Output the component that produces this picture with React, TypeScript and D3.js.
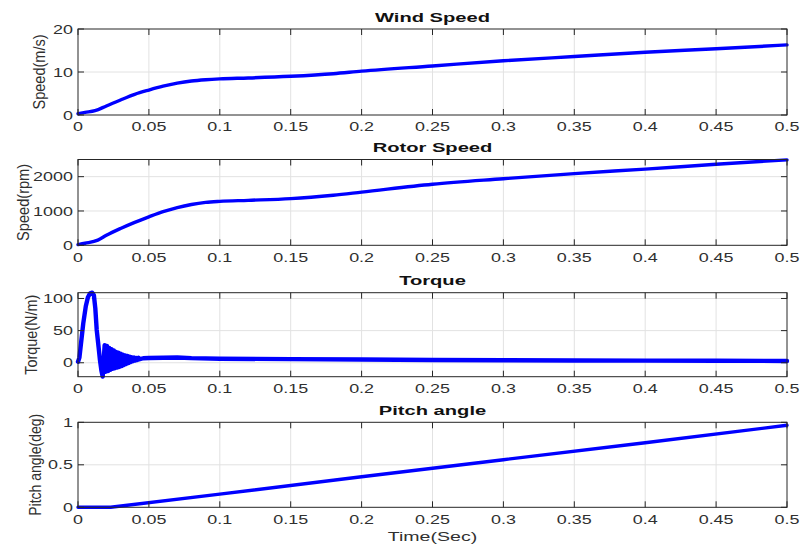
import React from "react";
import * as d3 from "d3";

// ---------- data ----------
const xTicks = [0, 0.05, 0.1, 0.15, 0.2, 0.25, 0.3, 0.35, 0.4, 0.45, 0.5];
const xTickLabels = ["0", "0.05", "0.1", "0.15", "0.2", "0.25", "0.3", "0.35", "0.4", "0.45", "0.5"];

const titles = ["Wind Speed", "Rotor Speed", "Torque", "Pitch angle"];
const yLabels = ["Speed(m/s)", "Speed(rpm)", "Torque(N/m)", "Pitch angle(deg)"];
const xLabel = "Time(Sec)";

const windT = [0, 0.005, 0.012, 0.02, 0.03, 0.04, 0.05, 0.06, 0.07, 0.08, 0.09, 0.1, 0.12, 0.15, 0.18, 0.2, 0.25, 0.3, 0.35, 0.4, 0.45, 0.5];
const windV = [0.3, 0.6, 1.0, 2.1, 3.5, 4.8, 5.8, 6.7, 7.4, 7.9, 8.2, 8.4, 8.6, 9.0, 9.6, 10.2, 11.4, 12.6, 13.6, 14.6, 15.4, 16.3];
const windYTicks = [0, 10, 20];

const rotorT = [0, 0.005, 0.014, 0.02, 0.03, 0.04, 0.05, 0.06, 0.07, 0.08, 0.09, 0.1, 0.12, 0.15, 0.18, 0.2, 0.25, 0.3, 0.35, 0.4, 0.45, 0.5];
const rotorV = [20, 60, 150, 290, 490, 670, 830, 980, 1100, 1190, 1250, 1280, 1310, 1360, 1460, 1550, 1780, 1940, 2090, 2220, 2360, 2490];
const rotorYTicks = [0, 1000, 2000];

const torqueT = [
  0, 0.001, 0.0037, 0.0055, 0.007, 0.0085, 0.01, 0.0112, 0.0122, 0.0132, 0.0145, 0.0155, 0.0165, 0.0174,
  0.0188, 0.0196, 0.0204, 0.0212, 0.022, 0.0228, 0.0236, 0.0244, 0.0252, 0.026, 0.0268, 0.0276, 0.0284, 0.0292,
  0.03, 0.0308, 0.0316, 0.0324, 0.0332, 0.034, 0.0348, 0.0356, 0.0364, 0.0372, 0.038, 0.0388, 0.0396, 0.0404,
  0.0412, 0.042, 0.0428, 0.0436,
  0.046, 0.05, 0.06, 0.07, 0.08, 0.1, 0.15, 0.2, 0.25, 0.3, 0.35, 0.4, 0.45, 0.5,
];
const torqueV = [
  1.5, 8, 61, 88, 102, 108, 109, 105, 85, 51, 25, 4, -12, -21.5,
  27.5, -14, 26, -13, 23, -11, 21, -9.5, 19, -8.5, 17, -7.5, 15.5, -6.5,
  14, -5, 12.5, -3.5, 11.5, -2, 10.5, -0.5, 9.5, 1, 8.5, 2.5, 8, 3.5,
  7.5, 4.5, 7.5, 5.5,
  7, 7.5, 7.8, 8.2, 7.2, 6.3, 5.6, 5, 4.3, 3.9, 3.6, 3.3, 3.1, 2.8,
];
const torqueYTicks = [0, 50, 100];

const pitchT = [0, 0.023, 0.1, 0.2, 0.3, 0.4, 0.5];
const pitchV = [0, 0, 0.155, 0.36, 0.56, 0.76, 0.965];
const pitchYTicks = [0, 0.5, 1];

// ---------- layout ----------
const W = 800;
const H = 547;
const X0 = 78;
const X1 = 787;
const FONT = "'Liberation Sans', Arial, Helvetica, sans-serif";
const TXT = "#303030";
const AXIS = "#262626";
const GRID = "#e2e2e2";
const BLUE = "#0000ff";

type Panel = {
  t: number[];
  v: number[];
  yTicks: number[];
  domain: [number, number];
  top: number;
  bottom: number;
  title: string;
  ylabel: string;
  ylabelX: number;
  ylabelLen: number;
  lineW: number;
  smooth: boolean;
};

const panels: Panel[] = [
  { t: windT, v: windV, yTicks: windYTicks, domain: [0, 20], top: 29, bottom: 115, title: titles[0], ylabel: yLabels[0], ylabelX: 45, ylabelLen: 75, lineW: 3.4, smooth: true },
  { t: rotorT, v: rotorV, yTicks: rotorYTicks, domain: [0, 2500], top: 159.5, bottom: 245.3, title: titles[1], ylabel: yLabels[1], ylabelX: 28.5, ylabelLen: 77, lineW: 3.4, smooth: true },
  { t: torqueT, v: torqueV, yTicks: torqueYTicks, domain: [-21.7, 109], top: 292.7, bottom: 376.7, title: titles[2], ylabel: yLabels[2], ylabelX: 37, ylabelLen: 80, lineW: 4.4, smooth: false },
  { t: pitchT, v: pitchV, yTicks: pitchYTicks, domain: [0, 1], top: 422.3, bottom: 507.3, title: titles[3], ylabel: yLabels[3], ylabelX: 40.5, ylabelLen: 102, lineW: 3.4, smooth: false },
];

const x = d3.scaleLinear().domain([0, 0.5]).range([X0, X1]);

function PanelView({ p }: { p: Panel }) {
  const y = d3.scaleLinear().domain(p.domain).range([p.bottom, p.top]);
  const pts: [number, number][] = p.t.map((t, i) => [t, p.v[i]]);
  const line = d3
    .line<[number, number]>()
    .x((d) => x(d[0]))
    .y((d) => y(d[1]))
    .curve(p.smooth ? d3.curveMonotoneX : d3.curveLinear);
  const cx = (X0 + X1) / 2;
  const cy = (p.top + p.bottom) / 2;
  const tickLen = 6;
  return (
    <g>
      {xTicks.map((t, i) =>
        i > 0 && i < xTicks.length - 1 ? (
          <line key={"gx" + i} x1={x(t)} x2={x(t)} y1={p.top} y2={p.bottom} stroke={GRID} strokeWidth={1} />
        ) : null
      )}
      {p.yTicks.map((v, i) => {
        const yy = y(v);
        if (Math.abs(yy - p.top) < 1 || Math.abs(yy - p.bottom) < 1) return null;
        return <line key={"gy" + i} x1={X0} x2={X1} y1={yy} y2={yy} stroke={GRID} strokeWidth={1} />;
      })}
      <path d={line(pts) || ""} fill="none" stroke={BLUE} strokeWidth={p.lineW} strokeLinejoin="round" strokeLinecap="round" />
      <rect x={X0} y={p.top} width={X1 - X0} height={p.bottom - p.top} fill="none" stroke={AXIS} strokeWidth={1} />
      {xTicks.map((t, i) => (
        <g key={"xt" + i}>
          <line x1={x(t)} x2={x(t)} y1={p.bottom} y2={p.bottom - tickLen} stroke={AXIS} strokeWidth={1} />
          <line x1={x(t)} x2={x(t)} y1={p.top} y2={p.top + tickLen} stroke={AXIS} strokeWidth={1} />
          <text
            transform={`translate(${x(t)},${p.bottom + 16.3}) scale(1.38,1)`}
            textAnchor="middle"
            fontFamily={FONT}
            fontSize={13}
            fill={TXT}
          >
            {xTickLabels[i]}
          </text>
        </g>
      ))}
      {p.yTicks.map((v, i) => (
        <g key={"yt" + i}>
          <line x1={X0} x2={X0 + tickLen} y1={y(v)} y2={y(v)} stroke={AXIS} strokeWidth={1} />
          <line x1={X1} x2={X1 - tickLen} y1={y(v)} y2={y(v)} stroke={AXIS} strokeWidth={1} />
          <text
            transform={`translate(${X0 - 5},${y(v) + 4.6}) scale(1.38,1)`}
            textAnchor="end"
            fontFamily={FONT}
            fontSize={13}
            fill={TXT}
          >
            {String(v)}
          </text>
        </g>
      ))}
      <text
        transform={`translate(${cx},${p.top - 7.3}) scale(1.55,1)`}
        textAnchor="middle"
        fontFamily={FONT}
        fontSize={13}
        fontWeight="bold"
        fill="#111"
      >
        {p.title}
      </text>
      <text
        transform={`translate(${p.ylabelX},${cy}) rotate(-90) scale(1,1.2)`}
        textAnchor="middle"
        fontFamily={FONT}
        fontSize={14.5}
        fill={TXT}
        textLength={p.ylabelLen}
        lengthAdjust="spacingAndGlyphs"
      >
        {p.ylabel}
      </text>
    </g>
  );
}

export default function App() {
  return (
    <svg
      width={W}
      height={H}
      viewBox={`0 0 ${W} ${H}`}
      style={{ position: "absolute", left: 0, top: 0, background: "#fff" }}
    >
      <rect x={0} y={0} width={W} height={H} fill="#fff" />
      {panels.map((p, i) => (
        <PanelView key={i} p={p} />
      ))}
      <text
        transform={`translate(${(X0 + X1) / 2},541) scale(1.45,1)`}
        textAnchor="middle"
        fontFamily={FONT}
        fontSize={13.5}
        fill={TXT}
      >
        {xLabel}
      </text>
    </svg>
  );
}
